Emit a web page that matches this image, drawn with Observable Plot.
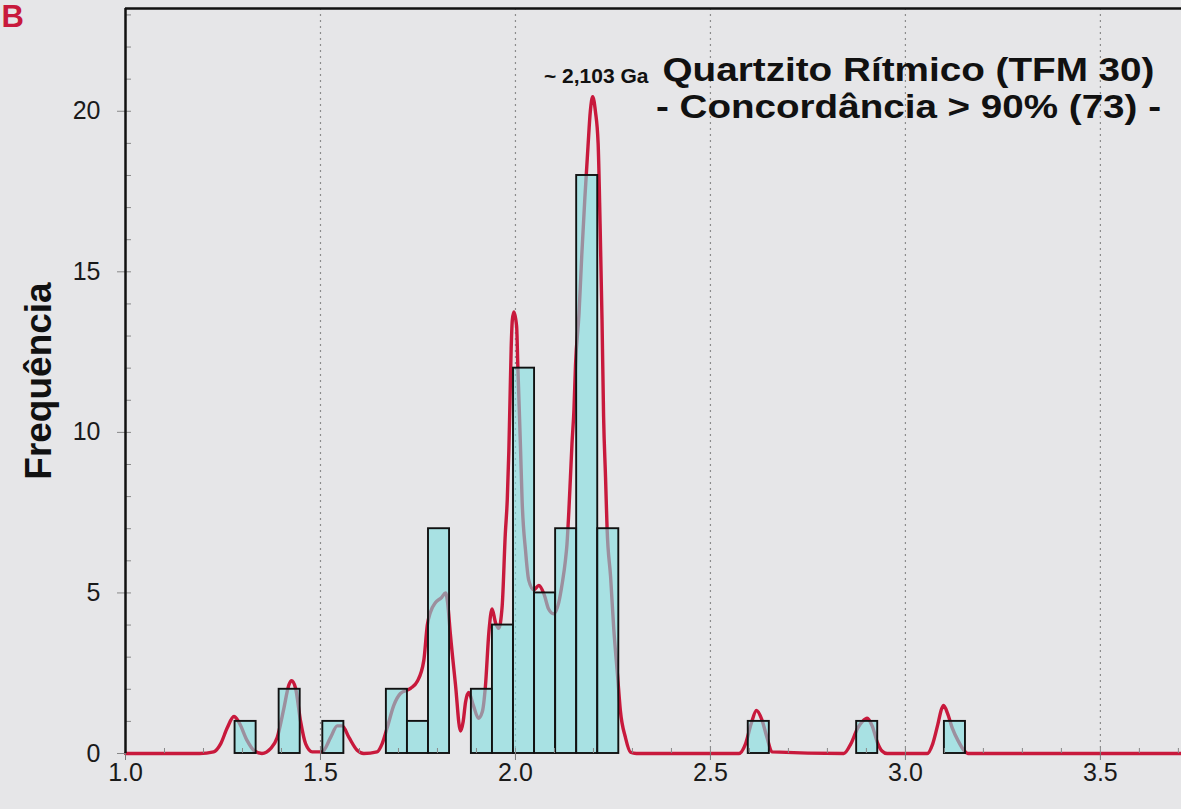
<!DOCTYPE html>
<html><head><meta charset="utf-8">
<script src="https://cdn.jsdelivr.net/npm/d3@7"></script>
<script src="https://cdn.jsdelivr.net/npm/@observablehq/plot@0.6"></script>
<style>
html,body{margin:0;padding:0;background:#e6e6e8;}
#chart{width:1181px;height:809px;overflow:hidden;}
svg{overflow:visible;}
</style></head><body><div id="chart"></div>
<script>
// Histogram bins (age in Ga, lower edge) and counts
const binLo = [1.281, 1.394, 1.506, 1.669, 1.723, 1.777, 1.887, 1.941, 1.995, 2.049, 2.103, 2.157, 2.211, 2.597, 2.875, 3.100];
const counts = [1, 2, 1, 2, 1, 7, 2, 4, 12, 5, 7, 18, 7, 1, 1, 1];
const binWidth = 0.054;

// Probability density curve
const curveAge = [1.00, 1.19, 1.226, 1.244, 1.261, 1.278, 1.291, 1.312, 1.329, 1.350,
  1.372, 1.389, 1.406, 1.419, 1.426, 1.436, 1.449, 1.462, 1.479, 1.504,
  1.526, 1.543, 1.556, 1.573, 1.594, 1.611, 1.645, 1.658, 1.671, 1.688,
  1.705, 1.731, 1.748, 1.765, 1.774, 1.782, 1.795, 1.810, 1.821, 1.826,
  1.833, 1.846, 1.859, 1.866, 1.872, 1.880, 1.892, 1.905, 1.915, 1.923,
  1.932, 1.940, 1.949, 1.957, 1.966, 1.974, 1.979, 1.983, 1.986, 1.989,
  1.992, 1.996, 2.003, 2.006, 2.009, 2.013, 2.017, 2.026, 2.034, 2.047,
  2.060, 2.073, 2.085, 2.098, 2.111, 2.120, 2.128, 2.132, 2.137, 2.141,
  2.145, 2.150, 2.154, 2.163, 2.170, 2.178, 2.186, 2.192, 2.198, 2.205,
  2.212, 2.217, 2.222, 2.226, 2.231, 2.235, 2.244, 2.252, 2.262, 2.269,
  2.282, 2.295, 2.310, 2.573, 2.590, 2.605, 2.618, 2.632, 2.645, 2.658,
  2.842, 2.860, 2.878, 2.890, 2.902, 2.915, 2.928, 2.940, 2.953,
  3.056, 3.070, 3.083, 3.093, 3.098, 3.108, 3.120, 3.135, 3.150, 3.160, 3.708];
const curveFreq = [0, 0, 0.05, 0.3, 0.8, 1.15, 0.97, 0.4, 0.1, 0,
  0.15, 0.5, 1.4, 2.14, 2.27, 2.04, 1.0, 0.3, 0.05, 0.05,
  0.5, 0.86, 0.86, 0.5, 0.1, 0, 0.05, 0.3, 0.8, 1.5,
  1.87, 2.03, 2.24, 2.9, 4.0, 4.4, 4.7, 4.85, 5.0, 4.7,
  3.73, 2.17, 0.7, 1.0, 1.6, 1.9, 1.5, 1.1, 1.3, 2.1,
  3.8, 4.5, 4.07, 3.9, 4.6, 6.85, 7.9, 9.4, 11.0, 12.6,
  13.5, 13.75, 13.3, 12.1, 11.0, 9.5, 7.9, 6.3, 5.4, 5.1,
  5.23, 4.97, 4.5, 4.35, 4.7, 5.3, 6.0, 6.5, 7.57, 8.6,
  9.65, 10.7, 12.1, 13.7, 15.5, 17.3, 18.9, 20.0, 20.45, 20.0,
  19.0, 16.5, 13.5, 10.5, 8.6, 7.0, 5.5, 3.9, 2.4, 1.34,
  0.5, 0.04, 0, 0, 0.3, 0.95, 1.34, 1.05, 0.5, 0.05,
  0, 0.3, 0.8, 1.0, 1.1, 0.85, 0.35, 0.08, 0,
  0, 0.3, 0.9, 1.4, 1.5, 1.25, 0.8, 0.4, 0.1, 0, 0];

const xTicks = [1.0, 1.5, 2.0, 2.5, 3.0, 3.5];
const xMinorTicks = d3.range(10, 38).map(d => d / 10);
const yTicks = [0, 5, 10, 15, 20];
const yMinorTicks = d3.range(1, 24);
const titleLine1 = "Quartzito Rítmico (TFM 30)";
const titleLine2 = "- Concordância > 90% (73) -";
const peakLabel = "~ 2,103 Ga";
const panelLabel = "B";
const yLabel = "Frequência";

const bars = binLo.map((lo, i) => ({x1: lo, x2: lo + binWidth, count: counts[i]}));
const curve = curveAge.map((a, i) => ({age: a, freq: curveFreq[i]}));

const font = "'Liberation Sans', Arial, Helvetica, sans-serif";
const red = "#c8193c";
const xMax = 3.708, yMax = 23.2;

const chart = Plot.plot({
  width: 1181, height: 809,
  marginLeft: 125, marginRight: 0, marginTop: 8, marginBottom: 56,
  style: {background: "#e6e6e8", fontFamily: font, overflow: "visible"},
  x: {domain: [1, xMax]},
  y: {domain: [0, yMax]},
  marks: [
    Plot.ruleX(xTicks.slice(1), {stroke: "#8c8c8c", strokeWidth: 1.2, strokeDasharray: "2,4"}),
    Plot.line(curve, {x: "age", y: "freq", stroke: red, strokeWidth: 3.4, curve: "monotone-x"}),
    Plot.rectY(bars, {x1: "x1", x2: "x2", y: "count", fill: "#7fdde0", fillOpacity: 0.6, stroke: "#111", strokeWidth: 1.9}),
    Plot.axisX(xTicks, {tickSize: 7, tickPadding: 3, fontSize: 25, tickFormat: d3.format(".1f"), stroke: "#777", fill: "#1a1a1a"}),
    Plot.axisX(xMinorTicks, {tickSize: -5, tickFormat: () => "", stroke: "#888"}),
    Plot.axisY(yTicks, {tickSize: 8, tickPadding: 17, fontSize: 25, stroke: "#888", fill: "#1a1a1a"}),
    Plot.axisY(yMinorTicks, {tickSize: -6, tickFormat: () => "", stroke: "#888"}),
    Plot.ruleX([1], {stroke: "#111", strokeWidth: 2.5}),
    Plot.ruleY([yMax], {stroke: "#111", strokeWidth: 2.5}),
    Plot.text([peakLabel], {frameAnchor: "top-left", dx: 523, dy: 74, lineAnchor: "bottom", textAnchor: "end", fontSize: 21, fontWeight: "bold", fill: "#111"}),
    Plot.text([titleLine1], {frameAnchor: "top-left", dx: 783, dy: 72, lineAnchor: "bottom", textAnchor: "middle", fontSize: 34, fontWeight: "bold", fill: "#111"}),
    Plot.text([titleLine2], {frameAnchor: "top-left", dx: 783, dy: 109, lineAnchor: "bottom", textAnchor: "middle", fontSize: 34, fontWeight: "bold", fill: "#111"}),
    Plot.text([panelLabel], {frameAnchor: "top-left", dx: -124, dy: 18, lineAnchor: "bottom", textAnchor: "start", fontSize: 31, fontWeight: "bold", fill: red}),
    Plot.text([yLabel], {frameAnchor: "left", dx: -86, rotate: -90, lineAnchor: "middle", textAnchor: "middle", fontSize: 37, fontWeight: "bold", fill: "#111"})
  ]
});
// slightly widen the title lines to match the reference lettering
const widths = new Map([[titleLine1, 492], [titleLine2, 505]]);
chart.querySelectorAll("text").forEach(t => {
  const w = widths.get(t.textContent);
  if (w) { t.setAttribute("textLength", w); t.setAttribute("lengthAdjust", "spacingAndGlyphs"); }
});
document.getElementById("chart").appendChild(chart);
</script></body></html>
